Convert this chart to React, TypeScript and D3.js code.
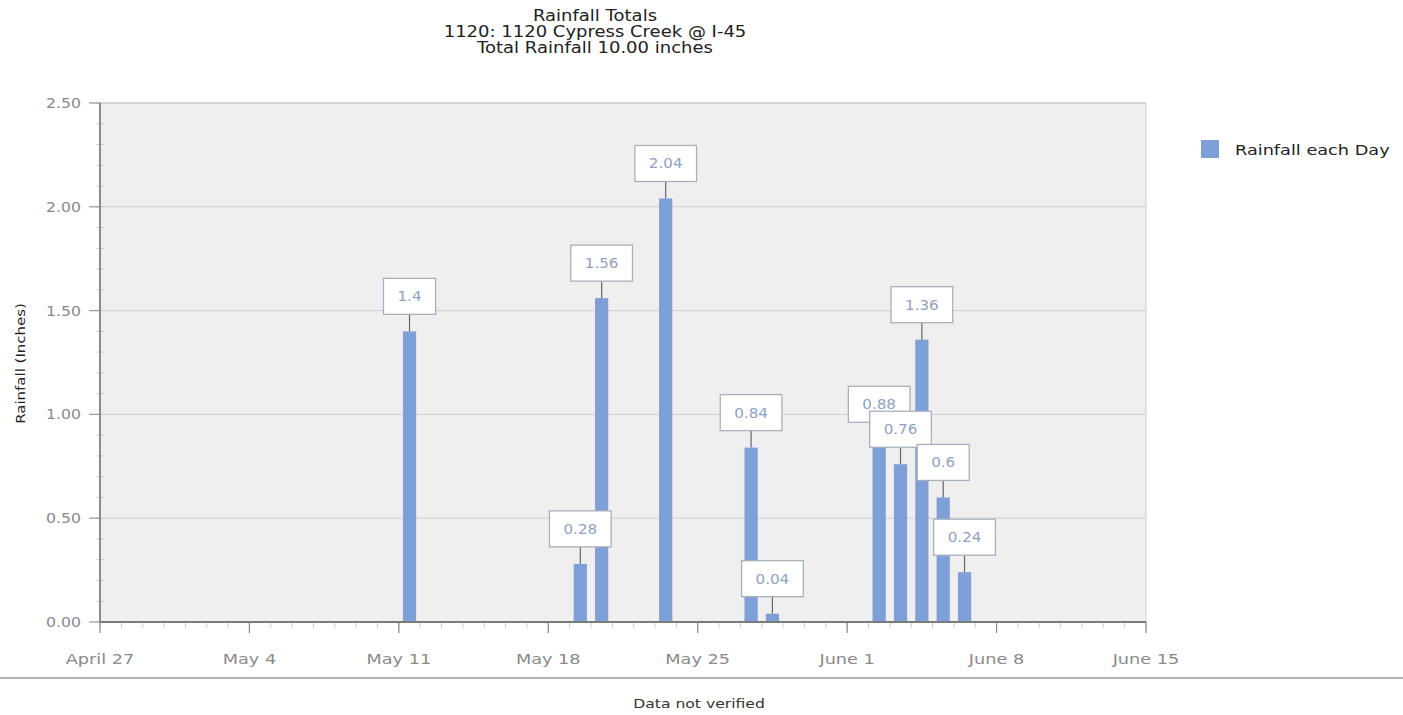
import React, { useEffect, useRef } from 'react';
import * as d3 from 'd3';

const titleLines = ['Rainfall Totals', '1120: 1120 Cypress Creek @ I-45', 'Total Rainfall 10.00 inches'];
const rainDates = ['2019-05-11', '2019-05-19', '2019-05-20', '2019-05-23', '2019-05-27', '2019-05-28', '2019-06-02', '2019-06-03', '2019-06-04', '2019-06-05', '2019-06-06'];
const rainValues = [1.4, 0.28, 1.56, 2.04, 0.84, 0.04, 0.88, 0.76, 1.36, 0.6, 0.24];
const xStart = '2019-04-27';
const xEnd = '2019-06-15';
const xTickLabels = ['April 27', 'May 4', 'May 11', 'May 18', 'May 25', 'June 1', 'June 8', 'June 15'];
const yTicks = [0, 0.5, 1, 1.5, 2, 2.5];
const seriesName = 'Rainfall each Day';
const yAxisTitle = 'Rainfall (Inches)';
const footer = 'Data not verified';

const W = 1403;
const H = 715;
const M = { left: 100, right: 1146, top: 103, bottom: 622 };
const FONT = "'DejaVu Sans', sans-serif";
const BAR = '#7f9fd8';

function stretch(sel: any, k: number) {
  const n = sel.node() as SVGTextElement;
  const w = n.getComputedTextLength();
  sel.attr('textLength', w * k).attr('lengthAdjust', 'spacingAndGlyphs');
}

export default function App() {
  const ref = useRef<SVGSVGElement>(null);
  useEffect(() => {
    const svg = d3.select(ref.current);
    svg.selectAll('*').remove();
    const parse = d3.utcParse('%Y-%m-%d');
    const x = d3.scaleUtc().domain([parse(xStart)!, parse(xEnd)!]).range([M.left, M.right]);
    const y = d3.scaleLinear().domain([0, 2.5]).range([M.bottom, M.top]);

    svg.append('rect').attr('width', W).attr('height', H).attr('fill', '#fff');

    // title
    titleLines.forEach((l, i) => {
      const t = svg.append('text').attr('text-anchor', 'middle').attr('font-family', FONT)
        .attr('font-size', 15).attr('fill', '#222').attr('x', 595).attr('y', 21 + i * 16).text(l);
      stretch(t, 1.2);
    });

    // plot bg
    svg.append('rect').attr('x', M.left).attr('y', M.top).attr('width', M.right - M.left)
      .attr('height', M.bottom - M.top).attr('fill', '#efefef');
    svg.append('line').attr('x1', M.left).attr('x2', M.right).attr('y1', M.top).attr('y2', M.top)
      .attr('stroke', '#bbb').attr('stroke-width', 1);
    svg.append('line').attr('x1', M.right).attr('x2', M.right).attr('y1', M.top).attr('y2', M.bottom)
      .attr('stroke', '#ccc').attr('stroke-width', 1);

    // gridlines
    yTicks.slice(1).forEach((v) => {
      svg.append('line').attr('x1', M.left).attr('x2', M.right).attr('y1', y(v)).attr('y2', y(v))
        .attr('stroke', '#cfcfcf').attr('stroke-width', 1);
    });

    // y minor ticks
    d3.range(0, 2.5001, 0.1).forEach((v) => {
      svg.append('line').attr('x1', M.left - 4).attr('x2', M.left + 4).attr('y1', y(v)).attr('y2', y(v))
        .attr('stroke', '#d0d0d0').attr('stroke-width', 1);
    });
    yTicks.forEach((v) => {
      svg.append('line').attr('x1', M.left - 11).attr('x2', M.left).attr('y1', y(v)).attr('y2', y(v))
        .attr('stroke', '#999').attr('stroke-width', 1.2);
      const t = svg.append('text').attr('x', M.left - 19).attr('y', y(v) + 5).attr('text-anchor', 'end')
        .attr('font-family', FONT).attr('font-size', 14).attr('fill', '#8a8a8a').text(d3.format('.2f')(v));
      stretch(t, 1.12);
    });

    // x ticks
    const days = d3.utcDay.range(parse(xStart)!, d3.utcDay.offset(parse(xEnd)!, 1));
    days.forEach((d) => {
      svg.append('line').attr('x1', x(d)).attr('x2', x(d)).attr('y1', M.bottom).attr('y2', M.bottom + 6)
        .attr('stroke', '#ccc').attr('stroke-width', 1);
    });
    const weeks = d3.range(0, xTickLabels.length).map((i) => d3.utcDay.offset(parse(xStart)!, i * 7));
    weeks.forEach((d, i) => {
      svg.append('line').attr('x1', x(d)).attr('x2', x(d)).attr('y1', M.bottom).attr('y2', M.bottom + 11)
        .attr('stroke', '#888').attr('stroke-width', 1.2);
      const t = svg.append('text').attr('x', x(d)).attr('y', M.bottom + 42).attr('text-anchor', 'middle')
        .attr('font-family', FONT).attr('font-size', 14.5).attr('fill', '#8a8a8a').text(xTickLabels[i]);
      stretch(t, 1.22);
    });

    // bars
    const dayW = x(d3.utcDay.offset(parse(xStart)!, 1)) - x(parse(xStart)!);
    const bw = dayW * 0.62;
    const data = rainDates.map((d, i) => ({ date: parse(d)!, value: rainValues[i] }));
    data.forEach((d) => {
      const cx = x(d.date) + dayW / 2;
      svg.append('rect').attr('x', cx - bw / 2).attr('y', y(d.value)).attr('width', bw)
        .attr('height', y(0) - y(d.value)).attr('fill', BAR);
    });

    // axes lines
    svg.append('line').attr('x1', M.left).attr('x2', M.left).attr('y1', M.top).attr('y2', M.bottom)
      .attr('stroke', '#8a8a8a').attr('stroke-width', 2);
    svg.append('line').attr('x1', M.left).attr('x2', M.right).attr('y1', M.bottom).attr('y2', M.bottom)
      .attr('stroke', '#7a7a7a').attr('stroke-width', 2);

    // labels
    data.forEach((d) => {
      const cx = x(d.date) + dayW / 2;
      const top = y(d.value);
      const bh = 36;
      const by = top - 17 - bh;
      const g = svg.append('g');
      g.append('line').attr('x1', cx).attr('x2', cx).attr('y1', by + bh).attr('y2', top)
        .attr('stroke', '#666').attr('stroke-width', 1.2);
      const rect = g.append('rect').attr('y', by).attr('height', bh).attr('fill', '#fff')
        .attr('stroke', '#a9b0bd').attr('stroke-width', 1.3);
      const txt = g.append('text').attr('x', cx).attr('y', by + bh / 2 + 5).attr('text-anchor', 'middle')
        .attr('font-family', FONT).attr('font-size', 13.5).attr('fill', '#8da2c8').text(String(d.value));
      const tw = (txt.node() as SVGTextElement).getComputedTextLength();
      stretch(txt, 1.12);
      const w = tw * 1.12 + 28;
      rect.attr('x', cx - w / 2).attr('width', w);
    });

    // legend
    svg.append('rect').attr('x', 1201).attr('y', 140).attr('width', 18).attr('height', 18).attr('fill', BAR);
    const lt = svg.append('text').attr('x', 1235).attr('y', 155).attr('font-family', FONT).attr('font-size', 14.5)
      .attr('fill', '#222').text(seriesName);
    stretch(lt, 1.22);

    // y axis title
    const yt = svg.append('text').attr('transform', `translate(21, ${(302 + 425) / 2}) rotate(-90)`)
      .attr('text-anchor', 'middle').attr('dy', 4).attr('font-family', FONT).attr('font-size', 13).attr('fill', '#222')
      .text(yAxisTitle);
    stretch(yt, 1.15);

    // footer
    svg.append('line').attr('x1', 0).attr('x2', W).attr('y1', 678).attr('y2', 678)
      .attr('stroke', '#999').attr('stroke-width', 1.5);
    const ft = svg.append('text').attr('x', 699).attr('y', 708).attr('text-anchor', 'middle').attr('font-family', FONT)
      .attr('font-size', 13).attr('fill', '#333').text(footer);
    stretch(ft, 1.2);
  }, []);
  return (
    <svg ref={ref} width={W} height={H} style={{ position: 'absolute', left: 0, top: 0 }} />
  );
}
